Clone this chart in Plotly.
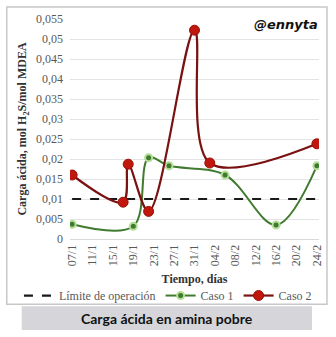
import plotly.graph_objects as go

# Acid loading in lean amine (mol H2S / mol MDEA)
caso1_fechas = ["2021-01-07", "2021-01-19", "2021-01-22", "2021-01-26",
                "2021-02-06", "2021-02-16", "2021-02-24"]
caso1_carga = [0.0037, 0.0032, 0.0203, 0.0183, 0.0160, 0.0035, 0.0183]

caso2_fechas = ["2021-01-07", "2021-01-17", "2021-01-18", "2021-01-22",
                "2021-01-31", "2021-02-03", "2021-02-24"]
caso2_carga = [0.0160, 0.0092, 0.0187, 0.0069, 0.0522, 0.0190, 0.0238]

limite_fechas = ["2021-01-07", "2021-02-24"]
limite_valor = [0.01, 0.01]

tick_fechas = ["2021-01-07", "2021-01-11", "2021-01-15", "2021-01-19", "2021-01-23",
               "2021-01-27", "2021-01-31", "2021-02-04", "2021-02-08", "2021-02-12",
               "2021-02-16", "2021-02-20", "2021-02-24"]
tick_textos = ["07/1", "11/1", "15/1", "19/1", "23/1", "27/1", "31/1",
               "04/2", "08/2", "12/2", "16/2", "20/2", "24/2"]

SERIF = "Liberation Serif"
GRIS = "#595959"

fig = go.Figure()

fig.add_trace(go.Scatter(
    x=limite_fechas, y=limite_valor, mode="lines",
    name="Límite de operación",
    line=dict(color="#1a1a1a", width=2.2, dash="dash"),
))
fig.add_trace(go.Scatter(
    x=caso1_fechas, y=caso1_carga, mode="lines+markers",
    name="Caso 1",
    line=dict(color="#3f7a2e", width=2, shape="spline", smoothing=1.0),
    marker=dict(size=7, color="#3f7a2e", line=dict(color="#b5de98", width=2)),
))
fig.add_trace(go.Scatter(
    x=caso2_fechas, y=caso2_carga, mode="lines+markers",
    name="Caso 2",
    line=dict(color="#7a1212", width=2.2, shape="spline", smoothing=1.0),
    marker=dict(size=10, color="#c0180e", line=dict(color="#9a1008", width=1)),
))

# frame around the chart and grey caption band
fig.add_shape(type="rect", xref="paper", yref="paper",
              x0=-0.254, x1=1.032, y0=-0.297, y1=1.054,
              line=dict(color="#c8c8c8", width=1.5), fillcolor="rgba(0,0,0,0)", layer="below")
fig.add_shape(type="rect", xref="paper", yref="paper",
              x0=-0.194, x1=0.972, y0=-0.414, y1=-0.306,
              line=dict(width=0), fillcolor="#d6d6da", layer="below")

fig.add_annotation(xref="paper", yref="paper", x=0.39, y=-0.36, yanchor="middle",
                   text="<b>Carga ácida en amina pobre</b>", showarrow=False,
                   font=dict(family="Lato", size=14, color="#111111"))
fig.add_annotation(xref="paper", yref="paper", x=1.005, y=0.977, xanchor="right",
                   yanchor="middle",
                   text="<b><i>@ennyta</i></b>", showarrow=False,
                   font=dict(family="DejaVu Sans", size=13, color="#111111"))

fig.update_layout(
    width=336, height=337,
    margin=dict(l=70, r=14, t=17, b=98),
    paper_bgcolor="white", plot_bgcolor="white",
    separators=",.",
    showlegend=True,
    legend=dict(orientation="h", x=-0.205, xanchor="left", y=-0.257, yanchor="middle",
                font=dict(family=SERIF, size=12, color=GRIS),
                itemwidth=30, tracegroupgap=0,
                bgcolor="rgba(0,0,0,0)"),
    xaxis=dict(
        type="date",
        range=["2021-01-06 14:00", "2021-02-24 10:00"],
        tickvals=tick_fechas, ticktext=tick_textos, tickangle=-90,
        tickfont=dict(family=SERIF, size=12, color=GRIS),
        showgrid=False, zeroline=False, showline=True, linecolor="#d9d9d9",
        title=dict(text="<b>Tiempo, días</b>", font=dict(family=SERIF, size=12, color="#333333"),
                   standoff=9),
    ),
    yaxis=dict(
        range=[0, 0.055], dtick=0.005, tickformat=".3~f",
        tickfont=dict(family=SERIF, size=12, color=GRIS),
        showgrid=True, gridcolor="#e3e3e3", gridwidth=1,
        zeroline=False, showline=False, ticklabelstandoff=6,
        title=dict(text="<b>Carga ácida, mol H<sub>2</sub>S/mol MDEA</b>",
                   font=dict(family=SERIF, size=12, color="#333333"), standoff=6),
    ),
)

fig.write_html("out.html")
